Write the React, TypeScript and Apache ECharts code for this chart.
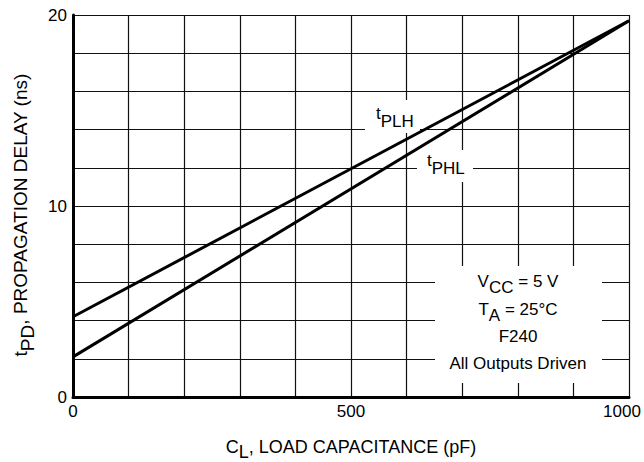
import React, { useEffect, useRef } from 'react';
import * as echarts from 'echarts';

const capacitance = [0, 1000];
const tPLH = [4.2, 19.7];
const tPHL = [2.1, 19.7];
const xLabelValues = [0, 500, 1000];
const yLabelValues = [0, 10, 20];

const FONT = '"Liberation Sans", Arial, Helvetica, sans-serif';

export default function App() {
  const ref = useRef<HTMLDivElement>(null);
  useEffect(() => {
    document.body.style.margin = '0';
    const chart = echarts.init(ref.current!, null, { renderer: 'svg' });
    const base = { fontSize: 17, fontFamily: FONT, color: '#000' };
    const mkRich = (off: number, size = 17) => ({
      m: { ...base, fontSize: size, lineHeight: 20, padding: [0, 0, off, 0] },
      s: { ...base, fontSize: size, lineHeight: 20, padding: [off, 0, 0, 0] },
    });
    const yRich: any = mkRich(7, 19);
    yRich.e = { ...yRich.m, padding: [0, 18, 7, 0] };
    const option: any = {
      animation: false,
      backgroundColor: '#fff',
      grid: { left: 73, right: 15, top: 15, bottom: 65, containLabel: false, outerBoundsMode: 'none' },
      xAxis: {
        type: 'value',
        min: 0,
        max: 1000,
        interval: 100,
        name: '{m|C}{s|L}{m|, LOAD CAPACITANCE (pF)}',
        nameLocation: 'middle',
        nameGap: 42,
        nameTextStyle: { ...base, rich: mkRich(5, 18) },
        axisLine: { lineStyle: { color: '#000', width: 3 } },
        axisTick: { show: false },
        splitLine: { lineStyle: { color: '#111', width: 1.2 } },
        axisLabel: {
          ...base,
          margin: 6,
          showMinLabel: true,
          showMaxLabel: true,
          formatter: (v: number) => {
            if (!xLabelValues.includes(v)) return '';
            if (v === 1000) return '{r|' + v + '}';
            return String(v);
          },
          rich: { r: { ...base, padding: [0, 14, 0, 0] } },
        },
      },
      yAxis: {
        type: 'value',
        min: 0,
        max: 20,
        interval: 2,
        name: '{m|t}{s|PD}{e|, PROPAGATION DELAY (ns)}',
        nameLocation: 'middle',
        nameGap: 35,
        nameTextStyle: { ...base, rich: yRich },
        axisLine: { show: true, lineStyle: { color: '#000', width: 3 } },
        axisTick: { show: false },
        splitLine: { lineStyle: { color: '#111', width: 1.2 } },
        axisLabel: {
          ...base,
          margin: 6,
          showMinLabel: true,
          showMaxLabel: true,
          formatter: (v: number) => (yLabelValues.includes(v) ? String(v) : ''),
        },
      },
      series: [
        {
          name: 'tPLH',
          type: 'line',
          data: capacitance.map((c, i) => [c, tPLH[i]]),
          symbol: 'none',
          lineStyle: { color: '#000', width: 3 },
          z: 5,
        },
        {
          name: 'tPHL',
          type: 'line',
          data: capacitance.map((c, i) => [c, tPHL[i]]),
          symbol: 'none',
          lineStyle: { color: '#000', width: 3 },
          z: 5,
        },
      ],
      graphic: [
        { type: 'rect', z: 3, shape: { x: 435, y: 266, width: 167, height: 117 }, style: { fill: '#fff' } },
        { type: 'rect', z: 3, shape: { x: 365, y: 100, width: 55, height: 33 }, style: { fill: '#fff' } },
        { type: 'rect', z: 3, shape: { x: 417, y: 150, width: 56, height: 32 }, style: { fill: '#fff' } },
        {
          type: 'text', z: 4, x: 376, y: 117,
          style: { text: '{m|t}{s|PLH}', rich: mkRich(8), align: 'left', verticalAlign: 'middle' },
        },
        {
          type: 'text', z: 4, x: 427, y: 164,
          style: { text: '{m|t}{s|PHL}', rich: mkRich(8), align: 'left', verticalAlign: 'middle' },
        },
        {
          type: 'text', z: 4, x: 518, y: 284.5,
          style: { text: '{m|V}{s|CC}{m| = 5 V}', rich: mkRich(6), align: 'center', verticalAlign: 'middle' },
        },
        {
          type: 'text', z: 4, x: 518, y: 312,
          style: { text: '{m|T}{s|A}{m| = 25°C}', rich: mkRich(6), align: 'center', verticalAlign: 'middle' },
        },
        {
          type: 'text', z: 4, x: 518, y: 336.5,
          style: { text: 'F240', font: '17px ' + FONT, fill: '#000', align: 'center', verticalAlign: 'middle' },
        },
        {
          type: 'text', z: 4, x: 518, y: 363.5,
          style: { text: 'All Outputs Driven', font: '17px ' + FONT, fill: '#000', align: 'center', verticalAlign: 'middle' },
        },
      ],
    };
    chart.setOption(option);
    return () => chart.dispose();
  }, []);
  return <div ref={ref} style={{ position: 'absolute', left: 0, top: 0, width: 644, height: 462 }} />;
}
